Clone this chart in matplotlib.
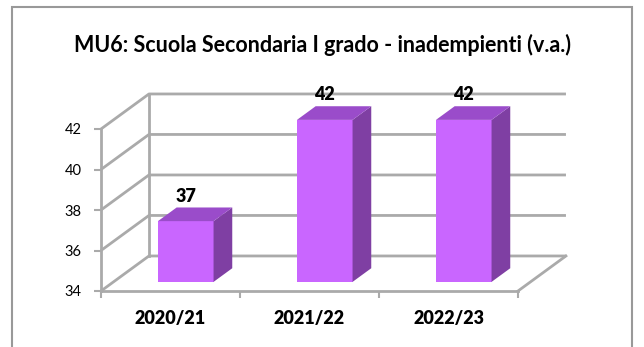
import matplotlib
matplotlib.use("Agg")
import matplotlib.pyplot as plt
from matplotlib.patches import Polygon, Rectangle

# data
categories = ["2020/21", "2021/22", "2022/23"]
values = [37, 42, 42]
y_ticks = [34, 36, 38, 40, 42]
title = "MU6: Scuola Secondaria I grado - inadempienti (v.a.)"

plt.rcParams['font.family'] = ['Lato', 'DejaVu Sans']

fig = plt.figure(figsize=(6.44, 3.47), dpi=100)
W, H = 644, 347
ax = fig.add_axes([101 / W, 56 / H, 417 / W, 162 / H])
n = len(categories)
ymin, ymax = y_ticks[0], y_ticks[-1]
ax.set_xlim(0, n)
ax.set_ylim(ymin, ymax)

# depth vector of the 3d box, in data units
dx, dy = 0.345, 1.73
grid = '#aaaaaa'

# walls and gridlines
for v in y_ticks:
    ax.plot([0, dx, n + dx], [v, v + dy, v + dy], color=grid, lw=2,
            clip_on=False, zorder=1, solid_capstyle='butt')
ax.plot([dx, dx], [ymin + dy, ymax + dy], color=grid, lw=2, clip_on=False, zorder=1)
ax.plot([n, n + dx], [ymin, ymin + dy], color=grid, lw=2, clip_on=False, zorder=1)

# 3d bars
f0, f1 = 0.26, 0.65
width = 0.4
ddx, ddy = (f1 - f0) * dx, (f1 - f0) * dy
front_c, side_c, top_c = '#c966ff', '#7f3fa3', '#9a4cca'
for i, v in enumerate(values):
    x0 = i + 0.52 - width / 2 + f0 * dx
    base = ymin + f0 * dy
    top = v + f0 * dy
    ax.add_patch(Rectangle((x0, base), width, top - base, facecolor=front_c,
                           edgecolor='none', clip_on=False, zorder=3))
    ax.add_patch(Polygon([(x0 + width, base), (x0 + width + ddx, base + ddy),
                          (x0 + width + ddx, top + ddy), (x0 + width, top)],
                         facecolor=side_c, edgecolor='none', clip_on=False, zorder=3))
    ax.add_patch(Polygon([(x0, top), (x0 + width, top), (x0 + width + ddx, top + ddy),
                          (x0 + ddx, top + ddy)],
                         facecolor=top_c, edgecolor='none', clip_on=False, zorder=3))
    ax.annotate(str(v), (x0 + width / 2, top + ddy), xytext=(0, 2),
                textcoords='offset points', ha='center', va='bottom',
                fontsize=13, fontweight='heavy', zorder=4, annotation_clip=False)

# axes
for s in ['top', 'right']:
    ax.spines[s].set_visible(False)
for s in ['left', 'bottom']:
    ax.spines[s].set_color(grid)
    ax.spines[s].set_linewidth(2)
    ax.spines[s].set_zorder(2)
ax.set_yticks(y_ticks)
ax.tick_params(axis='y', colors='black', color=grid, length=5, width=1.5,
               labelsize=10.5, pad=9)
ax.set_xticks(range(n + 1))
ax.set_xticklabels([])
ax.set_xticks([i + 0.5 for i in range(n)], minor=True)
ax.set_xticklabels(categories, minor=True, fontsize=13, fontweight='heavy')
ax.tick_params(axis='x', which='major', color=grid, length=5, width=1.5)
ax.tick_params(axis='x', which='minor', length=0, pad=14)
ax.patch.set_visible(False)

fig.text(323 / W, 1 - 45 / H, title, ha='center', va='center',
         fontsize=15.5, fontweight='bold')

# outer frame
fig.patches.append(Rectangle((12.5 / W, -0.05), 619 / W, 1.05 - 7 / H,
                             transform=fig.transFigure, fill=False,
                             edgecolor='#999999', lw=1.5))

fig.savefig('out.png', dpi=100)
